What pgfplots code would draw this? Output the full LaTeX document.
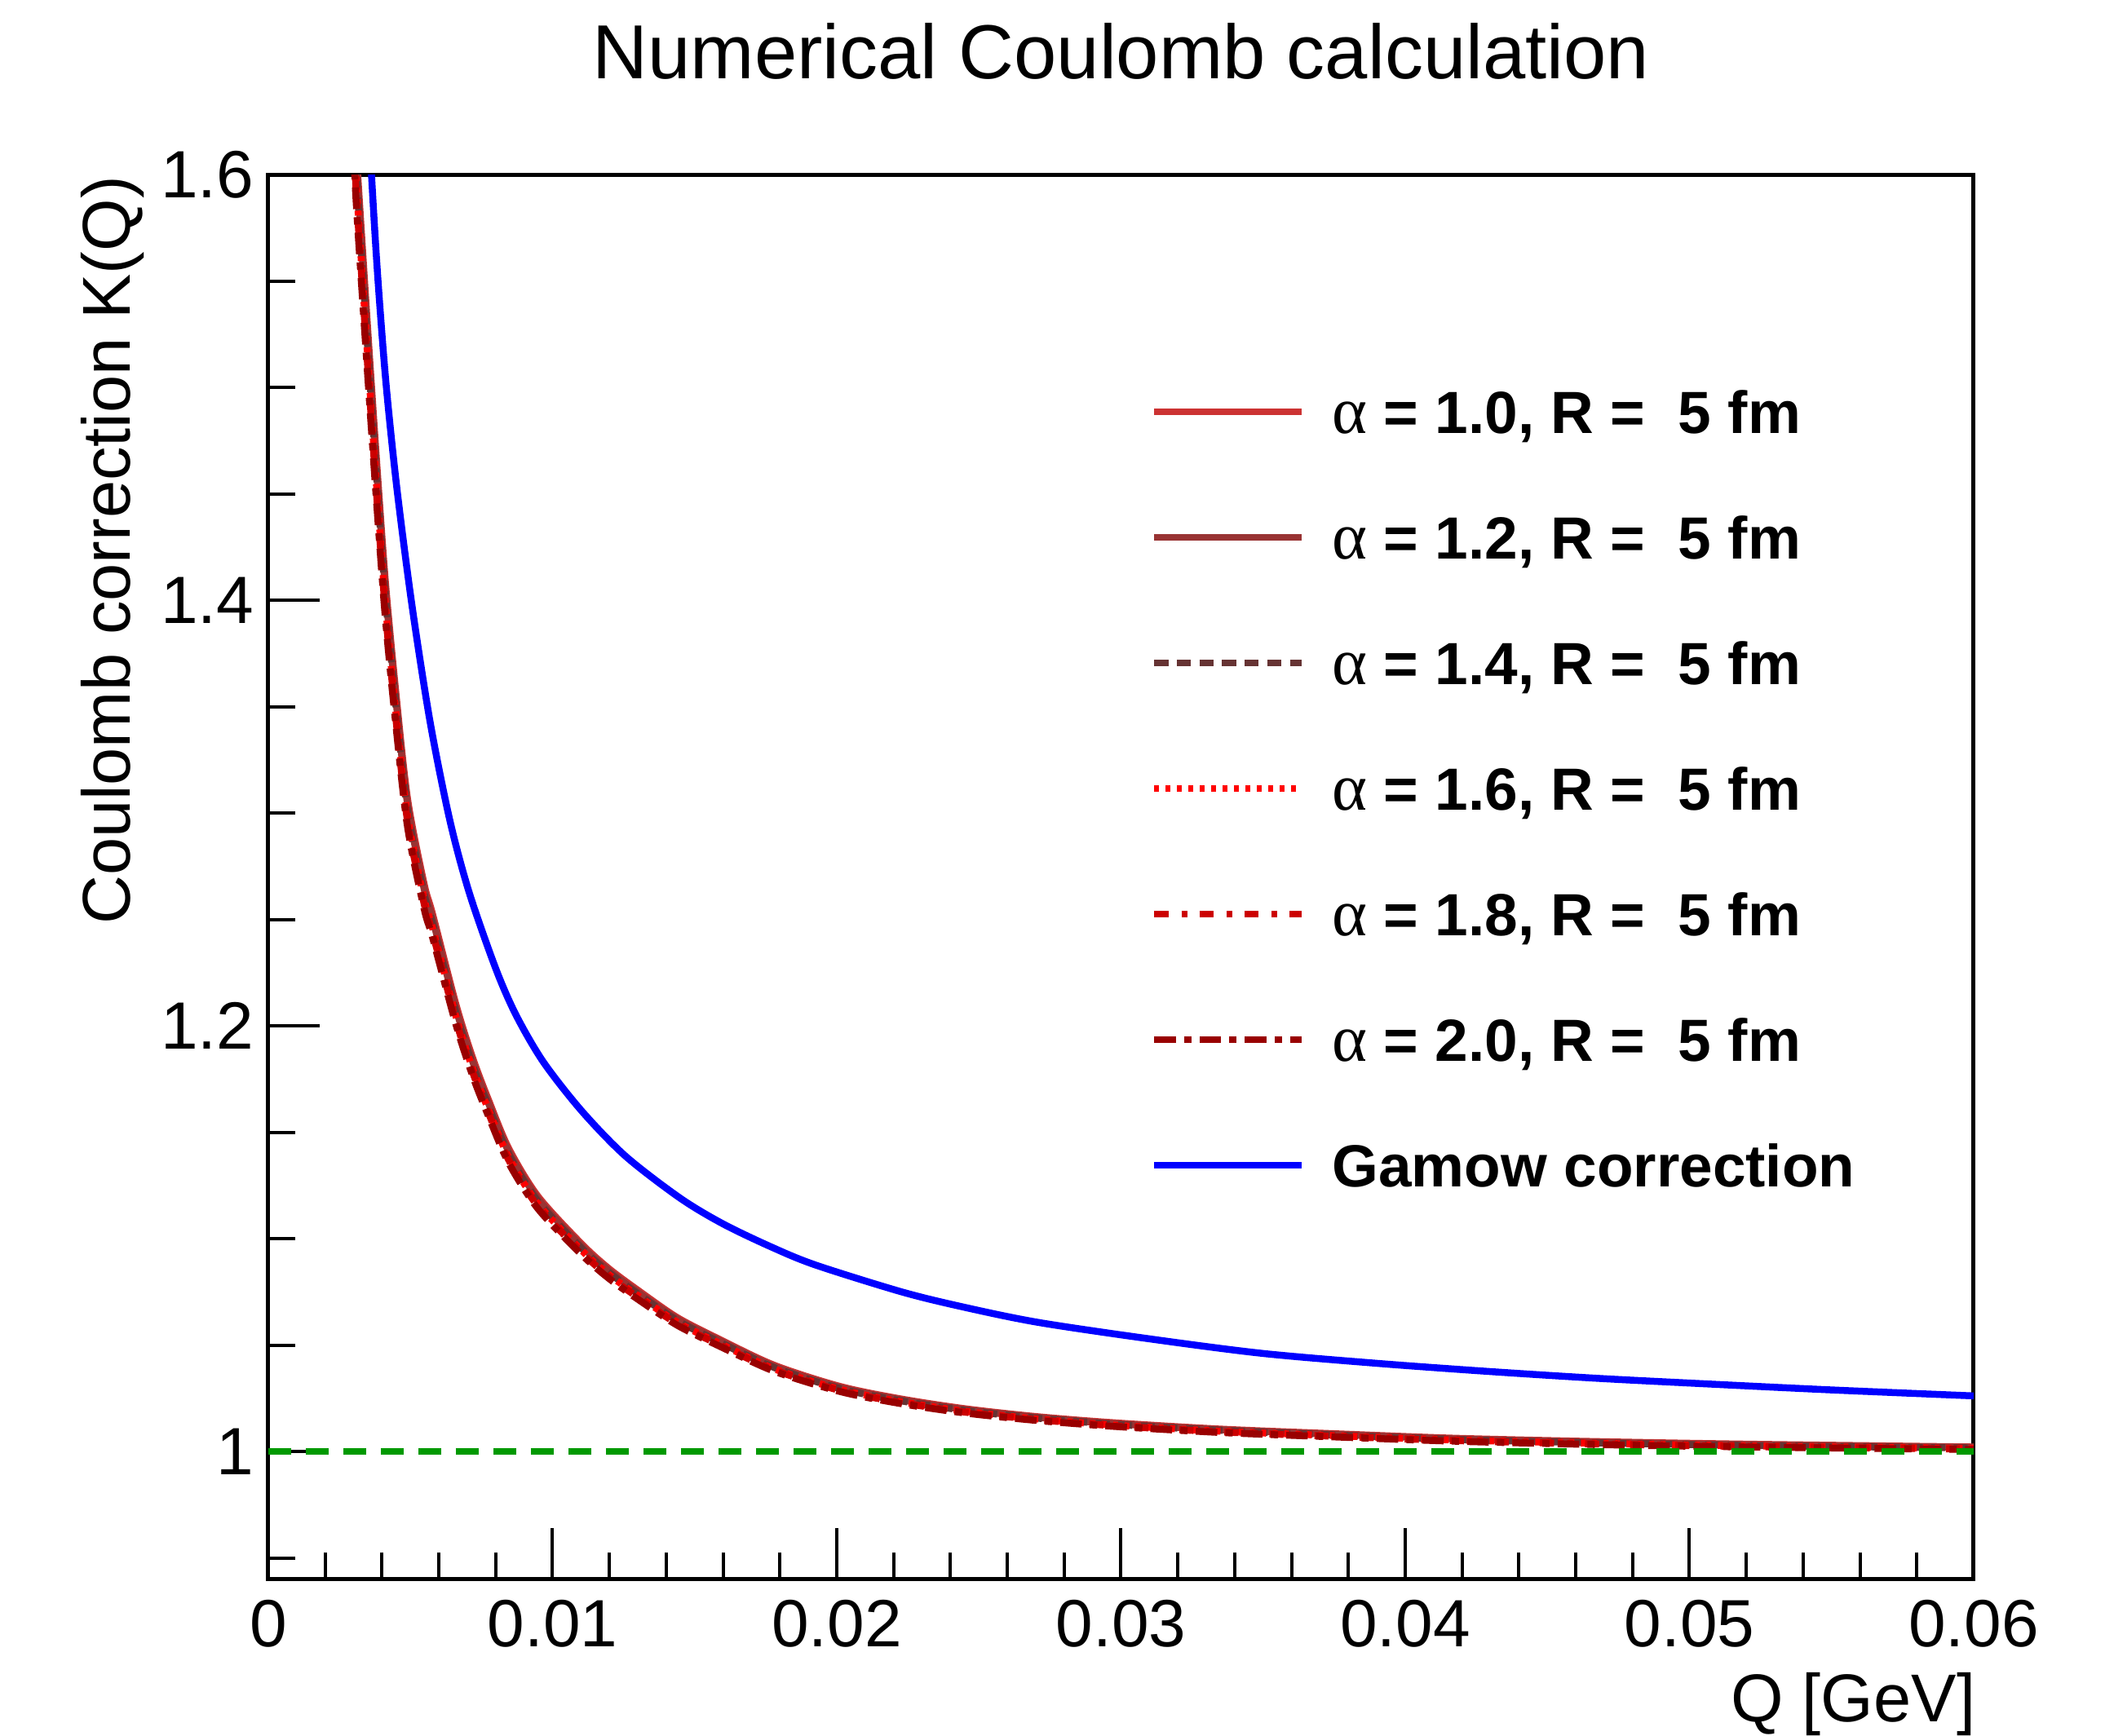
\documentclass[border=0pt]{standalone}
\usepackage{fontspec}
\setmainfont{Liberation Sans}
\newfontfamily\symf{Liberation Serif}
\usepackage{pgfplots}
\pgfplotsset{compat=1.18}
\usepackage{pgfplotstable}

\definecolor{cA}{RGB}{204,51,51}
\definecolor{cB}{RGB}{153,51,51}
\definecolor{cC}{RGB}{102,51,51}
\definecolor{cD}{RGB}{255,0,0}
\definecolor{cE}{RGB}{204,0,0}
\definecolor{cF}{RGB}{153,0,0}
\definecolor{gam}{RGB}{0,0,255}
\definecolor{grn}{RGB}{0,153,0}

\newcommand{\al}{{\symf\mdseries\fontsize{8.2}{9}\selectfont α}}

\pgfplotstableread{
Q a10 a12 a14 a16 a18 a20
0.00290 1.6636 1.6582 1.6527 1.6473 1.6418 1.6364
0.00309 1.6126 1.6076 1.6025 1.5975 1.5924 1.5874
0.00333 1.5616 1.5570 1.5523 1.5477 1.5430 1.5384
0.00358 1.5106 1.5064 1.5021 1.4979 1.4936 1.4894
0.00384 1.4596 1.4558 1.4519 1.4481 1.4442 1.4404
0.00412 1.4086 1.4052 1.4017 1.3983 1.3948 1.3914
0.00448 1.3576 1.3546 1.3515 1.3485 1.3454 1.3424
0.00490 1.3066 1.3040 1.3013 1.2987 1.2960 1.2934
0.00548 1.2668 1.2645 1.2622 1.2598 1.2575 1.2552
0.00578 1.2525 1.2503 1.2481 1.2459 1.2437 1.2415
0.00661 1.2097 1.2078 1.2059 1.2041 1.2022 1.2003
0.00720 1.1846 1.1829 1.1812 1.1796 1.1779 1.1762
0.00776 1.1648 1.1633 1.1618 1.1602 1.1587 1.1572
0.00846 1.1424 1.1410 1.1397 1.1383 1.1370 1.1356
0.00949 1.1199 1.1188 1.1176 1.1164 1.1152 1.1141
0.01103 1.0975 1.0965 1.0955 1.0945 1.0935 1.0925
0.01200 1.0858 1.0849 1.0840 1.0830 1.0821 1.0812
0.01308 1.0751 1.0742 1.0734 1.0726 1.0718 1.0709
0.01440 1.0629 1.0622 1.0615 1.0607 1.0600 1.0593
0.01590 1.0526 1.0520 1.0513 1.0507 1.0500 1.0494
0.01780 1.0406 1.0400 1.0395 1.0389 1.0384 1.0378
0.02010 1.0307 1.0302 1.0297 1.0293 1.0288 1.0283
0.02220 1.0249 1.0245 1.0240 1.0236 1.0232 1.0227
0.02449 1.0202 1.0198 1.0194 1.0190 1.0186 1.0182
0.02700 1.0165 1.0162 1.0158 1.0154 1.0151 1.0147
0.02972 1.0136 1.0132 1.0129 1.0125 1.0122 1.0119
0.03350 1.0106 1.0103 1.0100 1.0096 1.0093 1.0090
0.03757 1.0084 1.0081 1.0078 1.0075 1.0072 1.0069
0.04150 1.0064 1.0061 1.0058 1.0056 1.0053 1.0050
0.04542 1.0051 1.0048 1.0045 1.0043 1.0040 1.0037
0.04930 1.0041 1.0038 1.0035 1.0033 1.0030 1.0027
0.05327 1.0033 1.0030 1.0027 1.0025 1.0022 1.0020
0.06000 1.0022 1.0020 1.0017 1.0015 1.0012 1.0010
}\redtab

\pgfplotstableread{
Q K
0.00340 1.660
0.00363 1.600
0.00385 1.552
0.00414 1.502
0.00452 1.453
0.00505 1.398
0.00569 1.343
0.00638 1.297
0.00706 1.263
0.00800 1.227
0.00872 1.205
0.00968 1.183
0.01103 1.160
0.01257 1.1388
0.01449 1.1191
0.01600 1.1070
0.01769 1.0962
0.01925 1.0877
0.02230 1.0750
0.02450 1.0678
0.02710 1.0607
0.03100 1.0530
0.03495 1.0462
0.03900 1.0415
0.04280 1.0378
0.04670 1.0345
0.05065 1.0318
0.05500 1.0290
0.06000 1.0262
}\gamtab

\begin{document}
\begin{tikzpicture}
\path[use as bounding box] (-32.9pt,-19.2pt) rectangle (225.2pt,193.7pt);
\begin{axis}[
  scale only axis, width=209.1pt, height=172.3pt,
  xmin=0, xmax=0.06, ymin=0.94, ymax=1.6,
  xtick={0,0.01,0.02,0.03,0.04,0.05,0.06},
  xticklabels={0,0.01,0.02,0.03,0.04,0.05,0.06},
  ytick={1,1.2,1.4,1.6}, yticklabels={1,1.2,1.4,1.6},
  minor xtick={0.002,0.004,0.006,0.008,0.012,0.014,0.016,0.018,0.022,0.024,0.026,0.028,0.032,0.034,0.036,0.038,0.042,0.044,0.046,0.048,0.052,0.054,0.056,0.058},
  minor ytick={0.95,1.05,1.1,1.15,1.25,1.3,1.35,1.45,1.5,1.55},
  scaled x ticks=false, scaled y ticks=false,
  tick align=inside, xtick pos=bottom, ytick pos=left,
  major tick length=6.3pt, minor tick length=3.3pt,
  every tick/.style={black, line width=0.4pt},
  axis line style={line width=0.5pt},
  /pgf/number format/assume math mode=true,
  tick label style={font=\fontsize{8.2}{9}\selectfont, inner sep=0pt},
  xticklabel style={yshift=-2.3pt},
  yticklabel style={xshift=-1.6pt},
  title={Numerical Coulomb calculation},
  every axis title/.style={at={(axis description cs:0.5,1.068)}, anchor=base, inner sep=0pt, font=\fontsize{9.4}{11}\selectfont},
  xlabel={Q [GeV]},
  every axis x label/.style={at={(axis description cs:1.002,-0.1016)}, anchor=base east, inner sep=0pt, font=\fontsize{8.3}{10}\selectfont},
  ylabel={Coulomb correction K(Q)},
  every axis y label/.style={at={(axis description cs:-0.0717,1)}, anchor=south east, rotate=90, inner sep=0pt, font=\fontsize{8.3}{10}\selectfont},
  legend cell align=left,
  legend style={draw=none, fill=none, at={(axis description cs:0.5175,0.8479)}, anchor=north west,
    inner sep=0pt, outer sep=0pt, row sep=8.3pt, column sep=3.3pt,
    font=\fontsize{7.3}{8.5}\selectfont\bfseries,
    nodes={inner sep=0pt, outer sep=0pt, text height=5.5pt, text depth=1.6pt, anchor=base west}},
  legend image code/.code={\draw[#1] (0pt,2.6pt) -- (18.1pt,2.6pt);},
]
\addplot[cA, line width=0.85pt, smooth] table[x=Q,y=a10]{\redtab};
\addlegendentry{\al{} = 1.0, R = \ 5 fm}
\addplot[cB, line width=0.85pt, smooth] table[x=Q,y=a12]{\redtab};
\addlegendentry{\al{} = 1.2, R = \ 5 fm}
\addplot[cC, line width=0.85pt, smooth, dash pattern=on 1.73pt off 1.04pt] table[x=Q,y=a14]{\redtab};
\addlegendentry{\al{} = 1.4, R = \ 5 fm}
\addplot[cD, line width=0.85pt, smooth, dash pattern=on 0.6pt off 0.8pt] table[x=Q,y=a16]{\redtab};
\addlegendentry{\al{} = 1.6, R = \ 5 fm}
\addplot[cE, line width=0.85pt, smooth, dash pattern=on 1.73pt off 1.6pt on 0.7pt off 1.5pt] table[x=Q,y=a18]{\redtab};
\addlegendentry{\al{} = 1.8, R = \ 5 fm}
\addplot[cF, line width=0.85pt, smooth, dash pattern=on 2.65pt off 1.0pt on 0.9pt off 1.0pt] table[x=Q,y=a20]{\redtab};
\addlegendentry{\al{} = 2.0, R = \ 5 fm}
\addplot[gam, line width=0.85pt, smooth] table[x=Q,y=K]{\gamtab};
\addlegendentry{Gamow correction}
\addplot[grn, line width=0.8pt, dash pattern=on 2.8pt off 1.8pt, forget plot] coordinates {(0,1) (0.06,1)};
\end{axis}
\end{tikzpicture}
\end{document}
